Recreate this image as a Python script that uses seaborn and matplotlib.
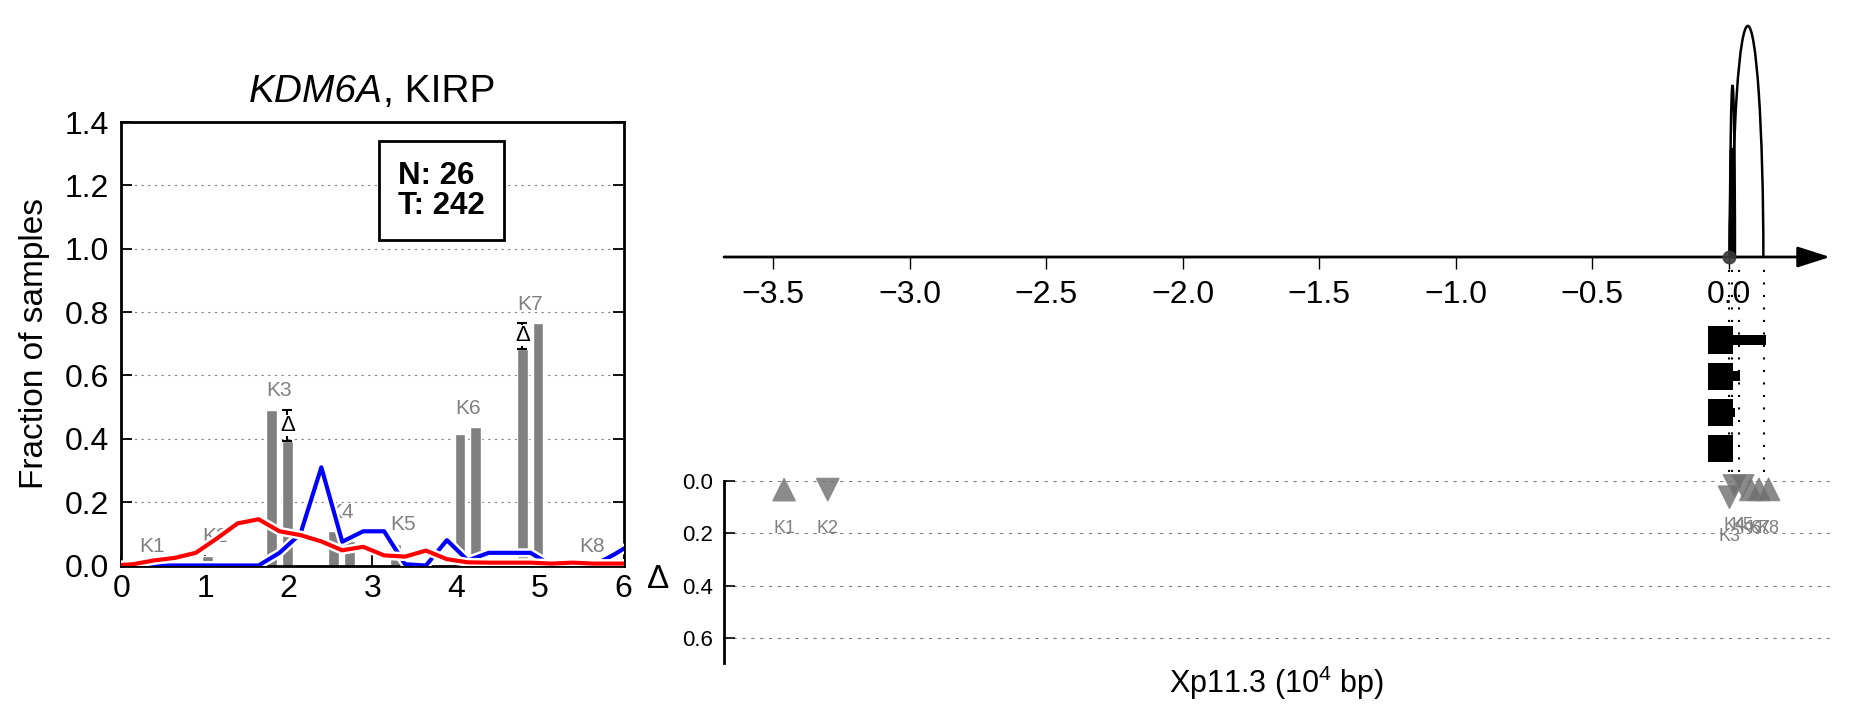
import matplotlib
matplotlib.use("Agg")
import matplotlib.pyplot as plt
import matplotlib.patheffects as pe
from matplotlib.patches import Arc
import numpy as np
import seaborn as sns

# ---- left panel: exon fractions ----
exons = ["K1", "K2", "K3", "K4", "K5", "K6", "K7", "K8"]
exon_pos = [0.37, 1.12, 1.89, 2.63, 3.37, 4.14, 4.885, 5.63]
frac_n = [0.0, 0.03, 0.491, 0.108, 0.068, 0.416, 0.685, 0.0]
frac_t = [0.0, 0.005, 0.392, 0.078, 0.016, 0.436, 0.765, 0.0]
signif = [False, False, True, False, False, False, True, False]
n_normal = 26
n_tumor = 242

# density curves
curve_x = [-0.11, 0.14, 0.39, 0.64, 0.89, 1.14, 1.39, 1.64, 1.89, 2.14, 2.39, 2.64,
           2.89, 3.14, 3.39, 3.64, 3.89, 4.14, 4.39, 4.64, 4.89, 5.14, 5.39, 5.64, 5.89, 6.14]
curve_red = [0.0, 0.004, 0.016, 0.024, 0.04, 0.085, 0.133, 0.146, 0.108, 0.096, 0.076, 0.048,
             0.059, 0.032, 0.028, 0.047, 0.02, 0.01, 0.009, 0.009, 0.009, 0.006, 0.009, 0.006, 0.006, 0.006]
curve_blue = [0.0, 0.0, 0.0, 0.0, 0.0, 0.0, 0.0, 0.0, 0.04, 0.1, 0.31, 0.075,
              0.108, 0.108, 0.004, 0.0, 0.08, 0.016, 0.04, 0.04, 0.04, 0.0, 0.0, 0.0, 0.035, 0.075]

# ---- right panel: gene track ----
track_ticks = [-3.5, -3.0, -2.5, -2.0, -1.5, -1.0, -0.5, 0.0]
arc_start = [0.012, 0.004, 0.003, 0.002]
arc_end = [0.126, 0.022, 0.014, 0.009]
arc_height = [0.975, 0.725, 0.46, 0.18]
guide_x = [0.0, 0.01, 0.035, 0.128]
row_frac = [0.135, 0.04, 0.022, 0.0]
tri_x = [-3.46, -3.30, 0.002, 0.02, 0.05, 0.08, 0.11, 0.145]
tri_delta = [0.034, 0.034, 0.063, 0.02, 0.02, 0.033, 0.033, 0.033]
tri_dir = ["up", "down", "down", "down", "down", "up", "up", "up"]
delta_ticks = [0.0, 0.2, 0.4, 0.6]

sns.set_theme(style="white")
plt.rcParams["font.family"] = ["Liberation Sans", "DejaVu Sans"]
plt.rcParams["mathtext.fontset"] = "custom"
plt.rcParams["mathtext.rm"] = "Liberation Sans"
plt.rcParams["mathtext.it"] = "Liberation Sans:italic"
plt.rcParams["mathtext.bf"] = "Liberation Sans:bold"
plt.rcParams["text.color"] = "black"

W, H = 1851, 718
fig = plt.figure(figsize=(W / 100, H / 100), dpi=100)


def px_axes(x0, y0, x1, y1):
    return fig.add_axes([x0 / W, 1 - y1 / H, (x1 - x0) / W, (y1 - y0) / H])


grey = "#808080"

# ================= left panel =================
ax = px_axes(121.3, 122, 623.5, 565.5)
pos = np.array(exon_pos)
ax.bar(pos - 0.093, frac_n, width=0.13, color=grey, edgecolor="white", lw=1, zorder=2)
ax.bar(pos + 0.093, frac_t, width=0.13, color=grey, edgecolor="white", lw=1, zorder=2)

outline = [pe.Stroke(linewidth=6.5, foreground="white"), pe.Normal()]
sns.lineplot(x=curve_x, y=curve_red, color="red", lw=3, ax=ax, path_effects=outline, zorder=4)
sns.lineplot(x=curve_x, y=curve_blue, color="blue", lw=3, ax=ax, path_effects=outline, zorder=3)

for name, p, n, t, s in zip(exons, exon_pos, frac_n, frac_t, signif):
    ax.text(p, max(n, t) + 0.06, name, color=grey, fontsize=15, ha="center", va="center", zorder=1)
    if s:
        lo, hi = min(n, t), max(n, t)
        xb = p - 0.093 if n < t else p + 0.093
        ax.errorbar(xb, (lo + hi) / 2, yerr=(hi - lo) / 2, fmt="none", ecolor="black",
                    elinewidth=1.5, capsize=3.5, capthick=1.5, zorder=5)
        ax.text(xb, (lo + hi) / 2, "\u0394", fontsize=16, ha="center", va="center", zorder=6,
                bbox=dict(fc="white", ec="none", pad=0))

ax.set_xlim(0, 6)
ax.set_ylim(0, 1.4)
ax.set_xticks(range(7))
ax.set_yticks([0.0, 0.2, 0.4, 0.6, 0.8, 1.0, 1.2, 1.4])
ax.set_yticklabels(["0.0", "0.2", "0.4", "0.6", "0.8", "1.0", "1.2", "1.4"])
ax.tick_params(axis="both", direction="in", length=8, width=1.3, labelsize=23, colors="black")
ax.tick_params(axis="y", right=True, left=True, pad=9)
ax.tick_params(axis="x", bottom=True, pad=6)
ax.yaxis.grid(True, color="grey", ls=(0, (2, 4)), lw=0.8)
ax.xaxis.grid(False)
for sp in ax.spines.values():
    sp.set_color("black")
    sp.set_linewidth(2)
ax.set_ylabel("Fraction of samples", fontsize=24, color="black")
ax.yaxis.set_label_coords(-0.172, 0.5)
ax.yaxis.label.set_va("center")

title_gene = ax.text(0.5, 1.068, "KDM6A", style="italic", transform=ax.transAxes,
                     fontsize=28, ha="left", va="center")
title_rest = ax.text(0.5, 1.068, ", KIRP", transform=ax.transAxes,
                     fontsize=28, ha="left", va="center")
ax.text(0.6375, 0.8455, f"N: {n_normal}\nT: {n_tumor}", transform=ax.transAxes,
        fontsize=22.5, fontweight="bold", ha="center", va="center", multialignment="left",
        linespacing=1.0, zorder=7,
        bbox=dict(boxstyle="square,pad=0.62", fc="white", ec="black", lw=2))

xlim_r = (-3.68, 0.37)

# ================= right top: coordinate arrow and arcs =================
axt = px_axes(724, 20, 1830, 257)
axt.set_xlim(*xlim_r)
axt.set_ylim(0, 1)
for sp in axt.spines.values():
    sp.set_visible(False)
for a0, a1, h in zip(arc_start, arc_end, arc_height):
    axt.add_patch(Arc(((a0 + a1) / 2, 0), a1 - a0, 2 * h, theta1=0, theta2=180,
                      color="black", lw=1.8))
axt.annotate("", xy=(xlim_r[1], 0), xytext=(xlim_r[0], 0), xycoords="data",
             arrowprops=dict(arrowstyle="-|>,head_length=1.0,head_width=0.32",
                             mutation_scale=20, lw=2, color="black",
                             shrinkA=0, shrinkB=0), annotation_clip=False)
axt.plot([0.0], [0.0], "o", color="#3a3a3a", ms=9, alpha=0.9, clip_on=False, zorder=5)
axt.set_xticks(track_ticks)
axt.set_xticklabels([f"{t:.1f}".replace("-", "\u2212") for t in track_ticks])
axt.set_yticks([])
axt.tick_params(axis="x", direction="out", bottom=True, length=8.5, width=1, pad=8,
                labelsize=23, colors="black")

# ================= right middle: row bars and guide lines =================
axm = px_axes(724, 262, 1830, 472)
axm.set_xlim(*xlim_r)
axm.set_ylim(3.65, -2.157)
axm.axis("off")
rows = np.arange(len(row_frac))
axm.barh(rows, [0.092] * len(rows), left=-0.077, height=0.75, color="black",
         edgecolor="none", lw=0, zorder=3)
axm.barh(rows, row_frac, left=0.0, height=0.26, color="black",
         edgecolor="none", lw=0, zorder=3)
for gx in guide_x:
    axm.axvline(gx, color="black", ls=(0, (1, 5)), lw=1.5, zorder=2)

# ================= right bottom: delta =================
axd = px_axes(724, 480.7, 1830, 663)
axd.set_xlim(*xlim_r)
axd.set_ylim(0.695, 0)
for k in ["top", "right", "bottom"]:
    axd.spines[k].set_visible(False)
axd.spines["left"].set_color("black")
axd.spines["left"].set_linewidth(2)
sns.scatterplot(x=tri_x, y=tri_delta, style=tri_dir, markers={"up": "^", "down": "v"},
                s=260, color="#6e6e6e", alpha=0.8, edgecolor="#808080", linewidth=1,
                legend=False, ax=axd, clip_on=False, zorder=4)
axd.set_ylim(0.695, 0)
axd.set_xlim(*xlim_r)
axd.set_yticks(delta_ticks)
axd.set_yticklabels([f"{t:.1f}" for t in delta_ticks])
axd.set_xticks([])
axd.tick_params(axis="y", direction="in", left=True, length=8, width=1.2, pad=8,
                labelsize=16, colors="black")
axd.yaxis.grid(True, color="grey", ls=(0, (3, 5)), lw=0.8)
axd.set_ylabel("")
axd.set_xlabel("")
for name, tx, td in zip(exons, tri_x, tri_delta):
    axd.text(tx, td + 0.15, name, color=grey, fontsize=13, ha="center", va="center")
axd.text(-0.0597, 0.46, "\u0394", transform=axd.transAxes, fontsize=24,
         ha="center", va="center", color="black")
axd.text(0.5, -0.11, "Xp11.3 (10$^4$ bp)", transform=axd.transAxes, fontsize=22,
         ha="center", va="center", color="black")

# centre the mixed-style title
fig.canvas.draw()
rend = fig.canvas.get_renderer()
w1 = title_gene.get_window_extent(rend).width
w2 = title_rest.get_window_extent(rend).width
axw = ax.get_window_extent(rend).width
x0 = 0.5 - (w1 + w2) / 2 / axw
title_gene.set_x(x0)
title_rest.set_x(x0 + w1 / axw)

fig.savefig("out.png", dpi=100)
